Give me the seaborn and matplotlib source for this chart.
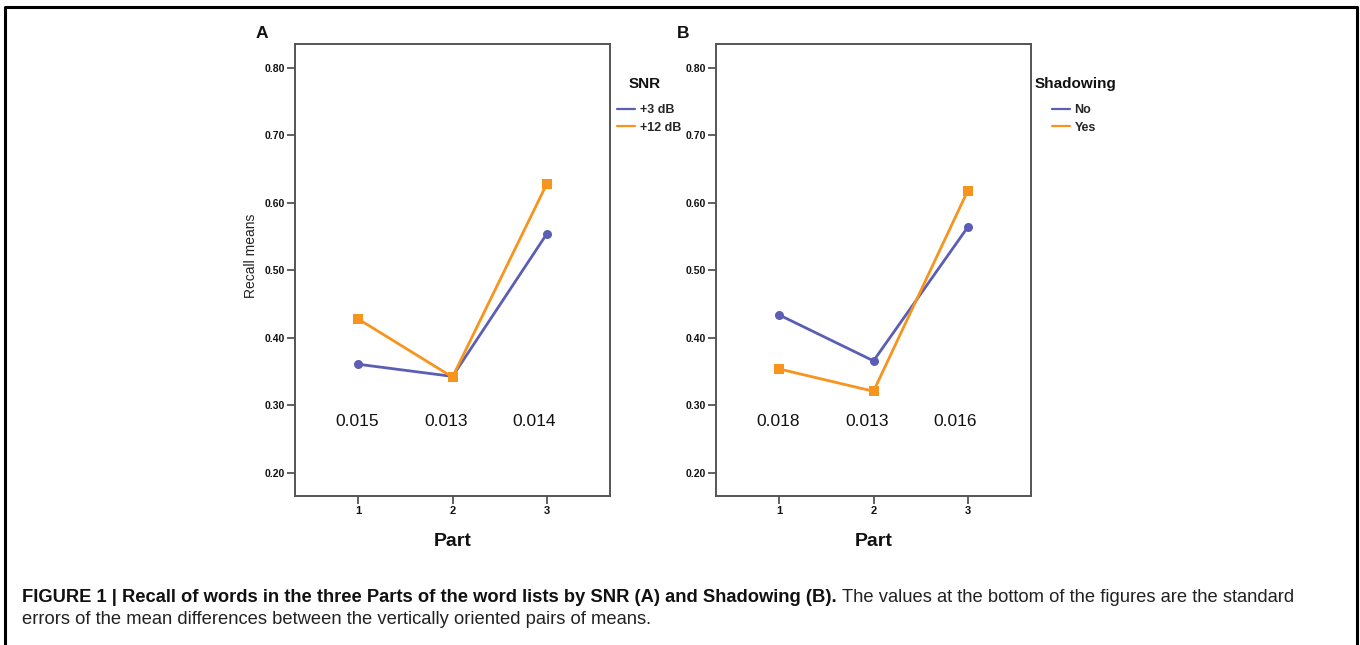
import matplotlib
matplotlib.use("Agg")
import matplotlib.pyplot as plt
from matplotlib.lines import Line2D
import seaborn as sns
import pandas as pd

sns.set_theme(style="white")
plt.rcParams['font.family'] = ['Liberation Sans', 'DejaVu Sans']

# ---- data ----
parts = [1, 2, 3]
snr_levels = ["+3 dB", "+12 dB"]
snr_3db = [0.361, 0.343, 0.554]
snr_12db = [0.428, 0.342, 0.628]
se_a = ["0.015", "0.013", "0.014"]

shadow_levels = ["No", "Yes"]
shadow_no = [0.434, 0.366, 0.564]
shadow_yes = [0.354, 0.321, 0.618]
se_b = ["0.018", "0.013", "0.016"]

yticks = [0.20, 0.30, 0.40, 0.50, 0.60, 0.70, 0.80]

BLUE = "#5A5EB4"
ORANGE = "#F7941E"
SPINE = "#555555"

W, H = 1360, 645
fig = plt.figure(figsize=(W / 100, H / 100), dpi=100)


def make_df(levels, a, b, name):
    rows = []
    for lev, vals in zip(levels, [a, b]):
        for p, v in zip(parts, vals):
            rows.append({"Part": p, "Recall": v, name: lev})
    return pd.DataFrame(rows)


def panel(left_px, df, name, levels, se, letter, leg_x_px, title_cx_px, ylabel):
    ax = fig.add_axes([left_px / W, 1 - 496 / H, 315 / W, 452 / H])
    sns.lineplot(data=df, x="Part", y="Recall", hue=name, style=name,
                 hue_order=levels, style_order=levels,
                 palette={levels[0]: BLUE, levels[1]: ORANGE},
                 markers={levels[0]: "o", levels[1]: "s"}, dashes=False,
                 markersize=6.5, markeredgewidth=0, linewidth=2.0,
                 legend=False, ax=ax)
    ax.set_xlim(0.33, 3.67)
    ax.set_ylim(0.166, 0.835)
    ax.set_xticks(parts)
    ax.set_xticklabels([str(p) for p in parts], fontweight='bold', fontsize=8)
    ax.set_yticks(yticks)
    ax.set_yticklabels([f"{t:.2f}" for t in yticks], fontweight='bold', fontsize=7.5)
    ax.tick_params(axis='both', direction='out', length=6, width=1.3,
                   color=SPINE, labelcolor='#111111', pad=1.5,
                   left=True, bottom=True)
    for s in ax.spines.values():
        s.set_color(SPINE)
        s.set_linewidth(1.4)
    ax.set_xlabel("Part", fontweight='bold', fontsize=14,
                  labelpad=12, color='#111111')
    if ylabel:
        ax.set_ylabel("Recall means", fontsize=10, color='#222222')
        ax.yaxis.set_label_coords(-0.118, 0.531)
    else:
        ax.set_ylabel("")
    for p, s_ in zip(parts, se):
        ax.text(p - 0.06 * (p - 1) - 0.01, 0.277, s_, ha='center', va='center',
                fontsize=12.5, color='#111111')
    fig.text((left_px - 39) / W, 1 - 33 / H, letter, fontsize=12.5,
             fontweight='bold', ha='left', va='center', color='#111111')
    # legend
    fig.text(title_cx_px / W, 1 - 84 / H, name, fontsize=11, fontweight='bold',
             ha='center', va='center', color='#111111')
    handles = [Line2D([], [], color=BLUE, lw=1.6),
               Line2D([], [], color=ORANGE, lw=1.6)]
    ax.legend(handles, levels, frameon=False, loc='upper left',
              bbox_to_anchor=(leg_x_px / W, 1 - 104 / H),
              bbox_transform=fig.transFigure,
              handlelength=1.4, handletextpad=0.4, labelspacing=0.45,
              borderpad=0, borderaxespad=0,
              prop={'weight': 'bold', 'size': 9})
    return ax


dfA = make_df(snr_levels, snr_3db, snr_12db, "SNR")
dfB = make_df(shadow_levels, shadow_no, shadow_yes, "Shadowing")
panel(295, dfA, "SNR", snr_levels, se_a, "A", 617, 645, True)
panel(716, dfB, "Shadowing", shadow_levels, se_b, "B", 1052, 1075, False)

# outer frame
fig.add_artist(Line2D([5 / W, 5 / W, 1357 / W, 1357 / W],
                      [0, 1 - 7 / H, 1 - 7 / H, 0],
                      transform=fig.transFigure, color='black', lw=2.2))

# caption
CAP = 13.2
y1 = 1 - 598 / H
y2 = 1 - 620 / H
cap_bold = fig.text(22 / W, y1, "FIGURE 1 | Recall of words in the three Parts of the word lists by SNR (A) and Shadowing (B).",
                    fontsize=CAP, fontweight='bold', ha='left', va='center', color='#111111')
fig.canvas.draw()
bb = cap_bold.get_window_extent(renderer=fig.canvas.get_renderer())
fig.text(bb.x1 / W + 5 / W, y1, "The values at the bottom of the figures are the standard",
         fontsize=CAP, ha='left', va='center', color='#222222')
fig.text(22 / W, y2, "errors of the mean differences between the vertically oriented pairs of means.",
         fontsize=CAP, ha='left', va='center', color='#222222')

fig.savefig("out.png", dpi=100, facecolor='white')
